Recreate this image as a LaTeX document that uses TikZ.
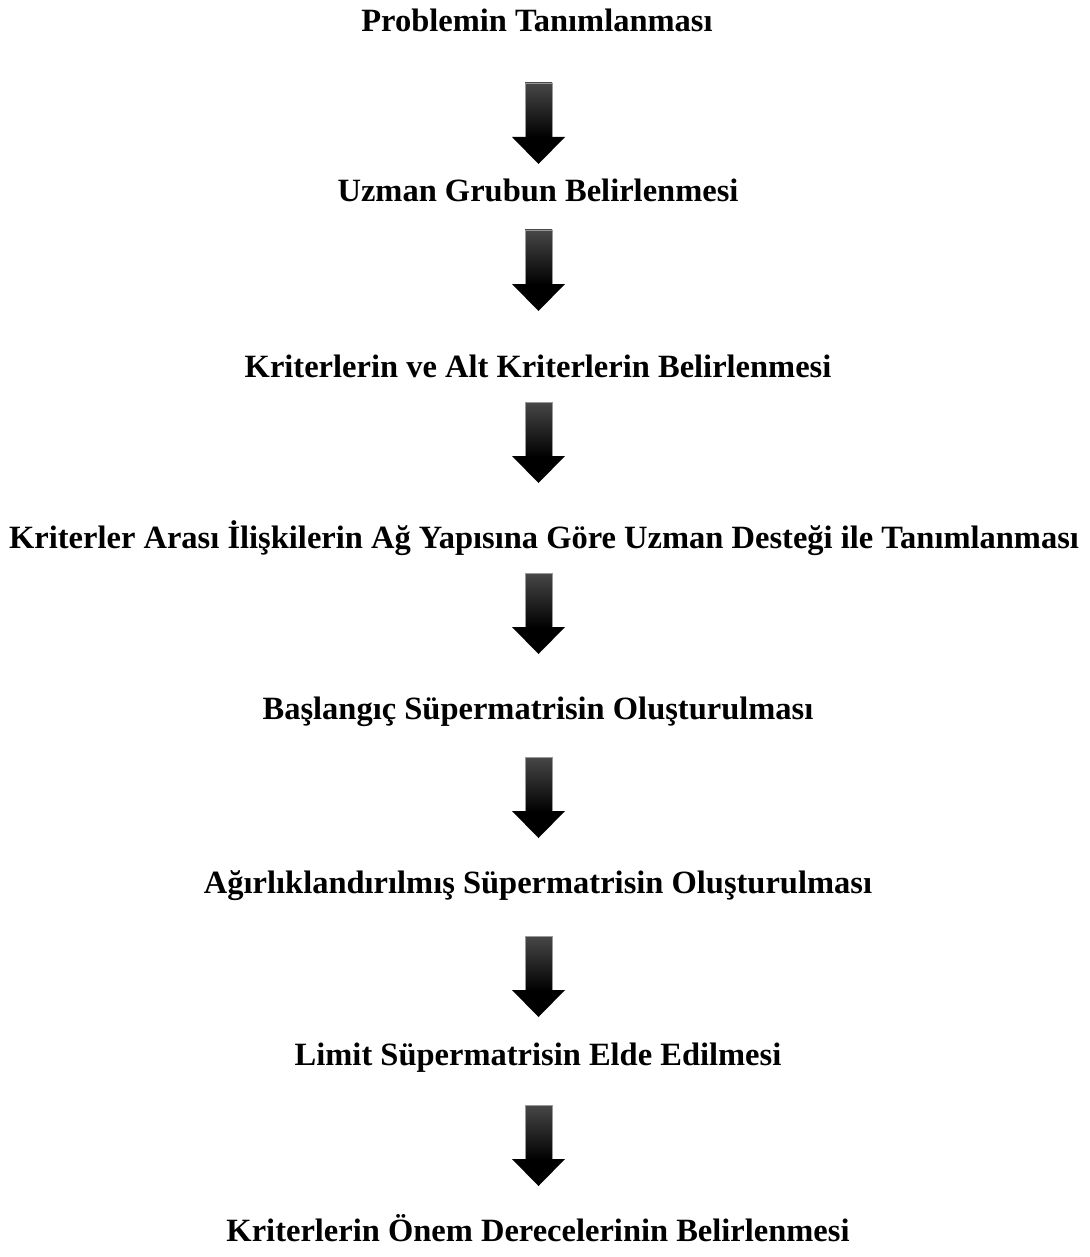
\documentclass[tikz,border=0pt]{standalone}
\usepackage{fontspec}
\setmainfont{Liberation Serif}
\begin{document}
\begin{tikzpicture}[x=1pt,y=1pt,
  steptext/.style={font=\bfseries\fontsize{32.5}{36}\selectfont, inner sep=0pt, anchor=center},
  blockarrow/.pic={
    % shaded shaft
    \shade[top color=black!72, bottom color=black, draw=black!40, line width=0.6pt]
      (-13.5,0) rectangle (13.5,-55);
    % solid head
    \fill[black] (-26.5,-54) -- (26.5,-54) -- (0,-81) -- cycle;
  }]
\useasboundingbox (0,0) rectangle (1089,-1257);

\node[steptext] (s1) at (537,-20)   {Problemin Tanımlanması};
\node[steptext] (s2) at (538,-190)  {Uzman Grubun Belirlenmesi};
\node[steptext] (s3) at (538,-366)  {Kriterlerin ve Alt Kriterlerin Belirlenmesi};
\node[steptext] (s4) at (544,-538)  {Kriterler Arası İlişkilerin Ağ Yapısına Göre Uzman Desteği ile Tanımlanması};
\node[steptext] (s5) at (538,-712)  {Başlangıç Süpermatrisin Oluşturulması};
\node[steptext] (s6) at (538,-886)  {Ağırlıklandırılmış Süpermatrisin Oluşturulması};
\node[steptext] (s7) at (538,-1058) {Limit Süpermatrisin Elde Edilmesi};
\node[steptext] (s8) at (538,-1228) {Kriterlerin Önem Derecelerinin Belirlenmesi};

\coordinate (a1) at (538.5,-83);
\coordinate (a2) at (538.5,-230);
\coordinate (a3) at (538.5,-402);
\coordinate (a4) at (538.5,-573);
\coordinate (a5) at (538.5,-757);
\coordinate (a6) at (538.5,-936);
\coordinate (a7) at (538.5,-1105);

\foreach \a in {a1,a2,a3,a4,a5,a6,a7} { \pic at (\a) {blockarrow}; }
\end{tikzpicture}
\end{document}
